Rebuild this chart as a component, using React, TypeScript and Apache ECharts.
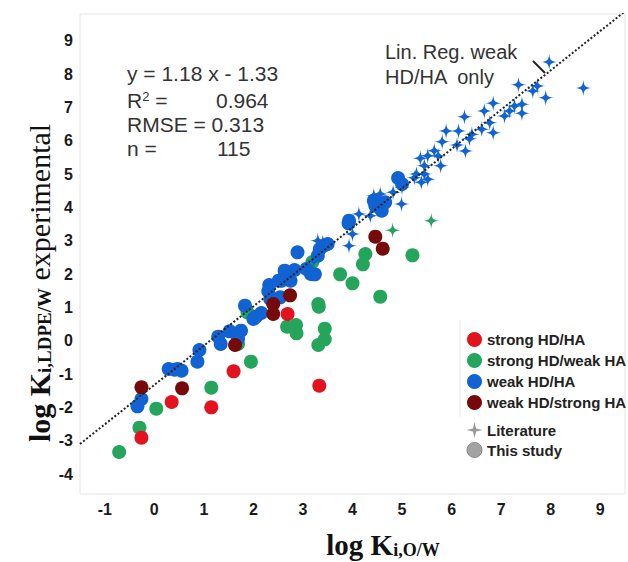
import React, { useEffect, useRef } from "react";
import * as echarts from "echarts";

// ---- data (log K O/W, log K LDPE/W) ----
const strongHDHA: number[][] = [
  [-0.26, -2.91], [0.35, -1.84], [1.15, -2.0], [1.6, -0.92], [2.69, 0.8], [3.33, -1.35],
];
const weakHDstrongHA: number[][] = [
  [-0.26, -1.4], [0.56, -1.43], [1.63, -0.13], [2.4, 1.1], [2.4, 0.8], [2.74, 1.36], [4.46, 3.12], [4.61, 2.76],
];
const strongHDweakHA: number[][] = [
  [-0.71, -3.34], [-0.3, -2.61], [0.04, -2.04], [1.15, -1.41], [1.95, -0.63], [1.69, -0.1], [1.88, 0.85],
  [2.68, 0.42], [2.86, 0.47], [2.87, 0.22], [3.31, 1.1], [3.32, 1.02], [3.44, 0.36], [3.44, 0.04], [3.31, -0.13],
  [3.75, 1.99], [4.0, 1.72], [4.21, 2.29], [4.26, 2.6], [4.56, 1.32], [5.21, 2.56], [3.19, 2.36],
];
const strongHDweakHALit: number[][] = [[4.81, 3.31], [5.59, 3.6]];
const weakHDHA: number[][] = [
  [-0.34, -1.97], [-0.26, -1.75], [0.29, -0.85], [0.41, -0.87], [0.55, -0.9], [0.47, -0.85], [0.87, -0.63],
  [0.91, -0.28], [1.29, 0.12], [1.34, -0.1], [1.52, 0.28], [1.75, 0.3], [1.69, 0.06], [1.83, 1.05], [2.0, 0.65],
  [2.16, 0.83], [2.05, 0.72], [2.32, 1.67], [2.3, 1.48], [2.34, 1.25], [2.54, 1.3], [2.63, 2.1], [2.57, 1.8],
  [2.75, 1.8], [2.83, 2.12], [2.89, 2.65], [2.51, 1.8], [3.07, 2.15], [3.16, 2.0], [3.24, 1.99], [3.34, 2.75],
  [3.42, 2.85], [3.5, 2.9], [3.3, 2.55], [3.93, 3.6], [3.92, 3.52], [4.43, 4.2], [4.46, 4.05], [4.59, 3.9],
  [4.66, 4.15], [4.92, 4.88], [5.0, 4.7],
];
const weakHDHALit: number[][] = [
  [3.3, 3.0], [3.22, 2.4], [3.4, 2.95], [3.93, 2.85], [4.0, 3.2], [4.13, 3.8], [4.36, 3.75], [4.43, 4.35],
  [4.56, 4.4], [4.82, 4.45], [4.99, 4.1], [5.0, 4.6], [5.25, 4.89], [5.29, 5.0], [5.39, 4.75], [5.45, 5.0],
  [5.52, 4.84], [5.45, 5.25], [5.37, 5.47], [5.52, 5.55], [5.65, 5.7], [5.73, 5.54], [5.78, 5.25], [5.81, 5.97],
  [5.89, 6.29], [6.11, 5.87], [6.14, 6.29], [6.28, 5.69], [6.36, 6.06], [6.41, 6.19], [6.61, 6.34], [6.77, 6.54],
  [6.84, 6.24], [6.26, 6.72], [6.66, 6.89], [6.84, 7.12], [7.07, 6.74], [7.17, 6.89], [7.27, 7.04], [7.42, 7.09],
  [7.42, 6.82], [7.35, 7.68], [7.64, 7.49], [7.73, 7.64], [7.9, 7.29], [7.97, 8.36], [8.66, 7.58],
];
const regSlope = 1.18;
const regIntercept = -1.33;
const xRange = [-1.5, 9.5];
const yRange = [-4.6, 9.8];
const legendNames = ["strong HD/HA", "strong HD/weak HA", "weak HD/HA", "weak HD/strong HA"];

const RED = "#e2131f";
const GREEN = "#25a55b";
const BLUE = "#1163d4";
const DARKRED = "#760909";
const STAR = "path://M0,-10 C1,-2 2,-1 10,0 C2,1 1,2 0,10 C-1,2 -2,1 -10,0 C-2,-1 -1,-2 0,-10 Z";
const SANS = "Liberation Sans, Arial, sans-serif";
const SERIF = "Liberation Serif, Times New Roman, serif";

export default function App() {
  const ref = useRef<HTMLDivElement>(null);
  useEffect(() => {
    document.body.style.margin = "0";
    const chart = echarts.init(ref.current!, null, { renderer: "svg" });
    const intLabel = (v: number) => (Math.abs(v - Math.round(v)) < 1e-6 ? String(Math.round(v)) : "");
    const regLine = xRange.map((x) => [x, regSlope * x + regIntercept]);
    const circle = (name: string, data: number[][], color: string) => ({
      name, type: "scatter", data, symbol: "circle", symbolSize: 14,
      itemStyle: { color, opacity: 1 },
    });
    const star = (name: string, data: number[][], color: string) => ({
      name, type: "scatter", data, symbol: STAR, symbolSize: 16,
      itemStyle: { color, opacity: 1 },
    });
    const txt = (x: number, y: number, text: string, size = 21, extra: any = {}) => ({
      type: "text", x, y,
      style: { text, fontFamily: SANS, fontSize: size, fill: "#333", verticalAlign: "middle", ...extra },
    });
    const tickLabel = { formatter: intLabel, fontFamily: SANS, fontWeight: "bold", fontSize: 16, color: "#1a1a1a", margin: 7 };
    chart.setOption({
      animation: false,
      backgroundColor: "#fff",
      grid: { left: 80, right: -6, top: 14, bottom: 68, show: true, borderColor: "#e4e4e4", borderWidth: 1 },
      xAxis: {
        type: "value", min: xRange[0], max: xRange[1], interval: 0.5,
        axisLine: { show: false }, axisTick: { show: false }, splitLine: { show: false },
        axisLabel: tickLabel,
      },
      yAxis: {
        type: "value", min: yRange[0], max: yRange[1], interval: 0.2,
        axisLine: { show: false }, axisTick: { show: false }, splitLine: { show: false },
        axisLabel: tickLabel,
      },
      legend: {
        data: legendNames, orient: "vertical", left: 467, top: 332, padding: 0,
        itemWidth: 15, itemHeight: 15, itemGap: 6, icon: "circle",
        textStyle: { fontFamily: SANS, fontWeight: "bold", fontSize: 15, color: "#222" },
        selectedMode: false,
      },
      series: [
        circle("strong HD/weak HA", strongHDweakHA, GREEN),
        circle("weak HD/HA", weakHDHA, BLUE),
        star("weak HD/HA (Literature)", weakHDHALit, BLUE),
        star("strong HD/weak HA (Literature)", strongHDweakHALit, GREEN),
        circle("weak HD/strong HA", weakHDstrongHA, DARKRED),
        circle("strong HD/HA", strongHDHA, RED),
        {
          name: "Lin. Reg.", type: "line", data: regLine, symbol: "none", z: 5,
          lineStyle: { color: "#222", width: 2, type: [2, 2] },
        },
      ],
      graphic: [
        txt(127, 73, "y = 1.18 x - 1.33"),
        {
          type: "text", x: 127, y: 100,
          style: {
            text: "{t|R}{s|2}{t| =}", verticalAlign: "middle",
            rich: {
              t: { fontFamily: SANS, fontSize: 21, fill: "#333", verticalAlign: "bottom" },
              s: { fontFamily: SANS, fontSize: 13, fill: "#333", verticalAlign: "top" },
            },
          },
        },
        txt(216, 100, "0.964"),
        txt(127, 124, "RMSE = 0.313"),
        txt(127, 148, "n ="),
        txt(217, 148, "115"),
        txt(385, 52, "Lin. Reg. weak", 20),
        txt(385, 77, "HD/HA  only", 20),
        { type: "line", shape: { x1: 533, y1: 61, x2: 545, y2: 73 }, style: { stroke: "#222", lineWidth: 2 } },
        { type: "line", shape: { x1: 460, y1: 320, x2: 460, y2: 417 }, style: { stroke: "#e6e6e6", lineWidth: 1 } },
        {
          type: "polygon", x: 474.5, y: 430,
          shape: { points: [[0, -8], [1.6, -1.6], [8, 0], [1.6, 1.6], [0, 8], [-1.6, 1.6], [-8, 0], [-1.6, -1.6]] },
          style: { fill: "#999" },
        },
        txt(487, 430, "Literature", 15, { fontWeight: "bold", fill: "#222" }),
        { type: "circle", shape: { cx: 474.5, cy: 450, r: 7.5 }, style: { fill: "#a3a3a3", stroke: "#888", lineWidth: 1 } },
        txt(487, 450, "This study", 15, { fontWeight: "bold", fill: "#222" }),
        {
          type: "text", x: 36, y: 283, rotation: Math.PI / 2,
          style: {
            text: "{a|log K}{b|i,LDPE/W}{c| experimental}", align: "center", verticalAlign: "middle",
            rich: {
              a: { fontFamily: SERIF, fontWeight: "bold", fontSize: 30, fill: "#111", verticalAlign: "bottom", lineHeight: 36 },
              b: { fontFamily: SERIF, fontWeight: "bold", fontSize: 19, fill: "#111", verticalAlign: "bottom", lineHeight: 22, padding: [10, 0, 0, 0] },
              c: { fontFamily: SERIF, fontSize: 30, fill: "#111", verticalAlign: "bottom", lineHeight: 36 },
            },
          },
        },
        {
          type: "text", x: 383, y: 543,
          style: {
            text: "{a|log K}{b|i,O/W}", align: "center", verticalAlign: "middle",
            rich: {
              a: { fontFamily: SERIF, fontWeight: "bold", fontSize: 29, fill: "#111", verticalAlign: "bottom", lineHeight: 32 },
              b: { fontFamily: SERIF, fontWeight: "bold", fontSize: 18, fill: "#111", verticalAlign: "bottom", lineHeight: 20, padding: [8, 0, 0, 0] },
            },
          },
        },
      ],
    });
    return () => chart.dispose();
  }, []);
  return <div ref={ref} style={{ width: 628, height: 562 }} />;
}
